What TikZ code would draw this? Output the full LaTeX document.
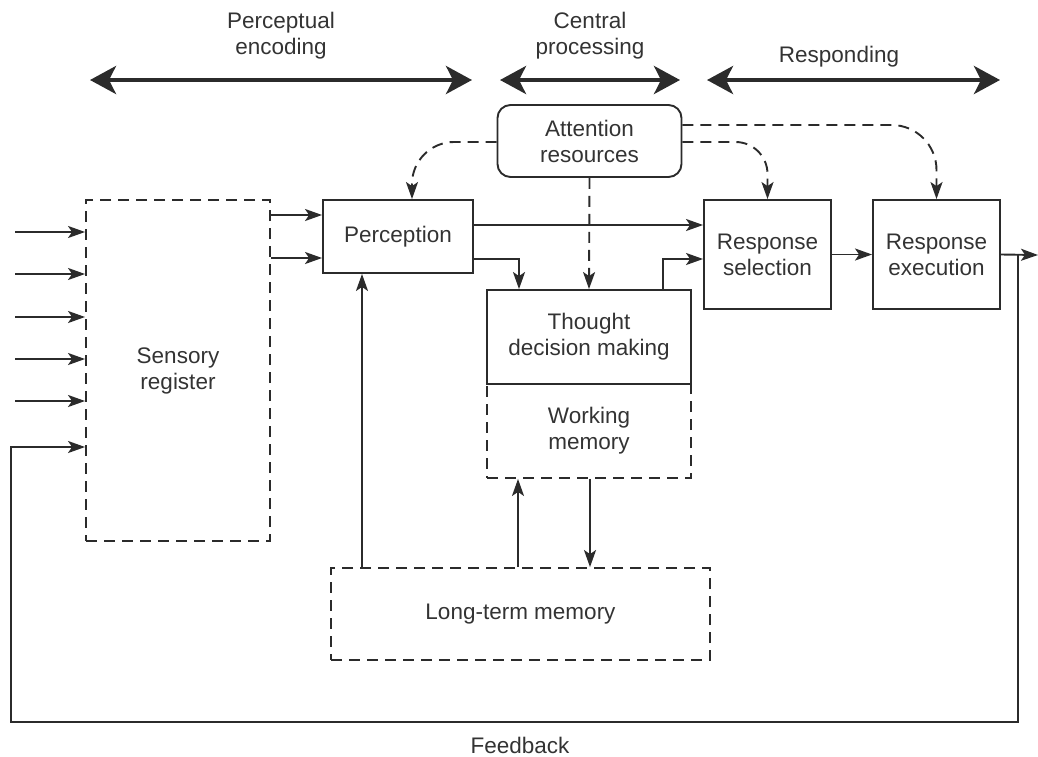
\documentclass[tikz,border=0pt]{standalone}
\usepackage{fontspec}
\setmainfont{Liberation Sans}
\usetikzlibrary{arrows.meta}
\definecolor{ink}{HTML}{2B2B2B}
\definecolor{txt}{HTML}{333333}
\begin{document}
\begin{tikzpicture}[x=1pt,y=-1pt,
  every node/.style={font=\fontsize{22.5}{26}\selectfont,text=txt,align=center,inner sep=0pt},
  line/.style={draw=ink,line width=1.9pt},
  dsh/.style={line,dash pattern=on 11pt off 7pt},
  solidbox/.style={line,rectangle},
  dashbox/.style={dsh,rectangle},
  tip/.style={-{Stealth[length=17pt,width=12pt,inset=4pt]}},
  arr/.style={line,tip},
  darr/.style={dsh,tip},
  phase/.style={draw=ink,line width=4pt,{Stealth[length=26pt,width=28pt,inset=7pt]}-{Stealth[length=26pt,width=28pt,inset=7pt]}}]
\useasboundingbox (0,0) rectangle (1038,756);

% stage bars
\node (penc) at (281,36) {Perceptual\\encoding};
\node (cproc) at (590,36) {Central\\processing};
\node (resp) at (839,57) {Responding};
\coordinate (p1) at (90,80);  \coordinate (p2) at (472,80);
\coordinate (c1) at (500,80); \coordinate (c2) at (680,80);
\coordinate (r1) at (707,80); \coordinate (r2) at (1000,80);
\draw[phase] (p1) -- (p2);
\draw[phase] (c1) -- (c2);
\draw[phase] (r1) -- (r2);

% blocks
\node[dashbox,minimum width=184pt,minimum height=341pt] (sens) at (178,370.5) {Sensory\\register};
\node[solidbox,minimum width=150pt,minimum height=73pt] (perc) at (398,236.5) {Perception};
\node[solidbox,rounded corners=13pt,minimum width=184pt,minimum height=72pt] (att) at (589.5,141) {Attention\\resources};
\node[dashbox,minimum width=204pt,minimum height=94pt] (wm) at (589,431) {Working\\memory};
\node[solidbox,minimum width=204pt,minimum height=94pt] (thought) at (589,337) {Thought\\decision making};
\node[solidbox,minimum width=127pt,minimum height=109pt] (rsel) at (767.5,254.5) {Response\\selection};
\node[solidbox,minimum width=127pt,minimum height=109pt] (rexec) at (936.5,254.5) {Response\\execution};
\node[dashbox,minimum width=379pt,minimum height=92pt] (ltm) at (520.5,614) {Long-term memory};
\node (fb) at (520,745) {Feedback};

% sensory inputs
\foreach \i/\yy in {1/232,2/274,3/317,4/359,5/401}{
  \coordinate (in\i) at (15,\yy);
  \draw[arr] (in\i) -- (sens.west |- in\i);
}

% sensory register to perception
\draw[arr] (sens.east |- 0,215) -- (perc.west |- 0,215);
\draw[arr] (sens.east |- 0,258) -- (perc.west |- 0,258);

% perception onwards
\draw[arr] (perc.east |- 0,225) -- (rsel.west |- 0,225);
\draw[arr] (perc.east |- 0,259) -| (thought.north -| 519,0);
\draw[arr] (thought.north -| 663,0) |- (rsel.west |- 0,259);
\draw[arr] (rsel.east) -- (rexec.west);

% output and feedback loop
\coordinate (out) at (1038,255);
\coordinate (fbr) at (1018,722);
\coordinate (fbl) at (11,722);
\coordinate (fbin) at (11,447);
\draw[arr] (rexec.east) -- (out);
\draw[arr] (fbr |- rexec.east) -- (fbr) -- (fbl) -- (fbin) -- (sens.west |- fbin);

% attention allocation
\draw[darr,rounded corners=42pt] (att.west |- 0,142) -| (perc.north -| 412,0);
\draw[darr] (att.south) -- (thought.north);
\draw[darr,rounded corners=32pt] (att.east |- 0,142) -| (rsel.north);
\draw[darr,rounded corners=45pt] (att.east |- 0,125) -| (rexec.north);

% long-term memory links
\draw[arr] (ltm.north -| 362,0) -- (perc.south -| 362,0);
\draw[arr] (ltm.north -| 518,0) -- (wm.south -| 518,0);
\draw[arr] (wm.south -| 590,0) -- (ltm.north -| 590,0);
\end{tikzpicture}
\end{document}
